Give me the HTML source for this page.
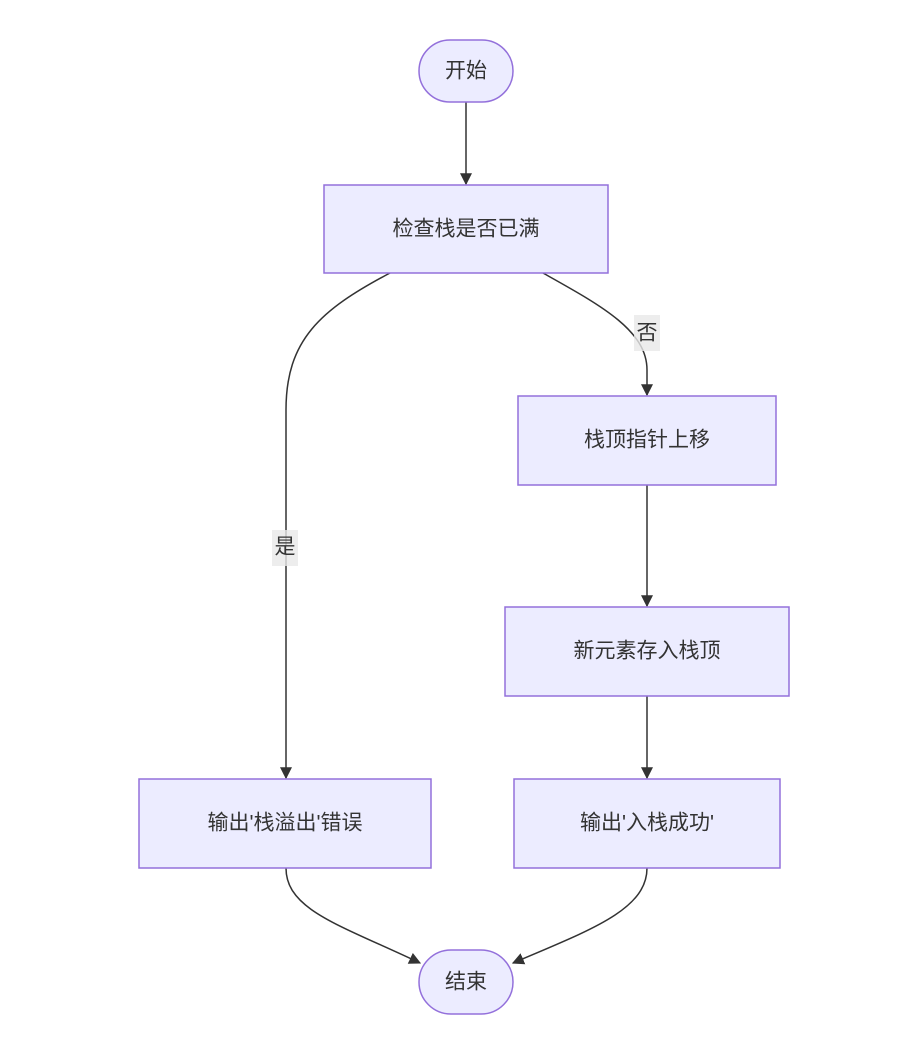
<!DOCTYPE html>
<html><head><meta charset="utf-8"><style>
html,body{margin:0;padding:0;background:#fff;}
svg text{font-family:"Liberation Sans","Noto Sans CJK SC",sans-serif;font-size:21px;fill:#333;}
</style></head><body>
<svg width="904" height="1042" viewBox="0 0 904 1042" xmlns="http://www.w3.org/2000/svg">
<defs><marker id="a" viewBox="0 0 10 10" refX="9" refY="5" markerWidth="8" markerHeight="8" orient="auto"><path d="M0,0L10,5L0,10z" fill="#333"/></marker></defs>
<g fill="none" stroke="#333" stroke-width="1.5" marker-end="url(#a)">
<path d="M466,102V184"/>
<path d="M390,273C320,310 286,340 286,410V778"/>
<path d="M543,273C600,305 647,330 647,370V395"/>
<path d="M647,485V606"/>
<path d="M647,696V778"/>
<path d="M286,868C286,910 340,925 420,963"/>
<path d="M647,868C647,910 590,930 513,963"/>
</g>
<g fill="#ECECFF" stroke="#9370DB" stroke-width="1.5">
<rect x="419" y="40" width="94" height="62" rx="31"/>
<rect x="324" y="185" width="284" height="88"/>
<rect x="518" y="396" width="258" height="89"/>
<rect x="505" y="607" width="284" height="89"/>
<rect x="514" y="779" width="266" height="89"/>
<rect x="139" y="779" width="292" height="89"/>
<rect x="419" y="950" width="94" height="64" rx="32"/>
</g>
<rect x="272" y="530" width="26" height="36" fill="rgba(232,232,232,0.8)"/>
<rect x="634" y="315" width="26" height="36" fill="rgba(232,232,232,0.8)"/>
<g text-anchor="middle" dominant-baseline="central">
<text x="466" y="71">开始</text>
<text x="466" y="229">检查栈是否已满</text>
<text x="647" y="440">栈顶指针上移</text>
<text x="647" y="651">新元素存入栈顶</text>
<text x="647" y="823">输出'入栈成功'</text>
<text x="285" y="823">输出'栈溢出'错误</text>
<text x="466" y="982">结束</text>
<text x="285" y="547">是</text>
<text x="647" y="333">否</text>
</g>
</svg>
</body></html>
